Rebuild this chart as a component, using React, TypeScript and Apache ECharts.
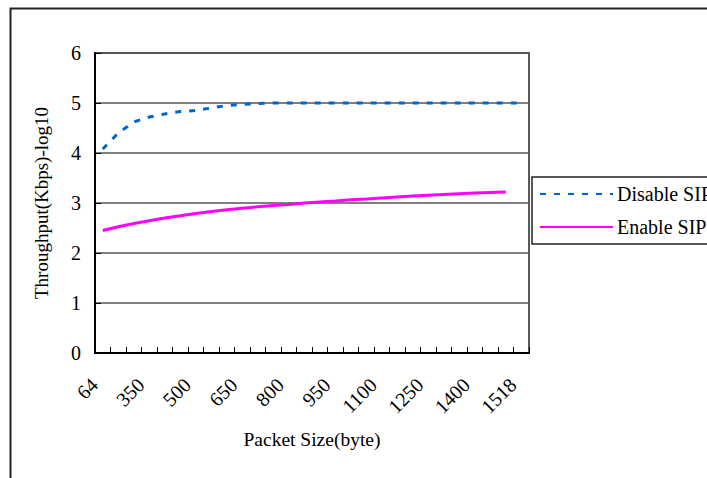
import React, { useEffect, useRef } from "react";
import * as echarts from "echarts";

const categories = [
  "64", "128", "256", "350", "400", "450", "500", "550", "600", "650",
  "700", "750", "800", "850", "900", "950", "1000", "1050", "1100", "1150",
  "1200", "1250", "1300", "1350", "1400", "1450", "1500", "1518",
];

const disableSip = [
  4.08, 4.4, 4.62, 4.72, 4.78, 4.83, 4.85, 4.9, 4.95, 4.97,
  4.99, 5.0, 5.0, 5.0, 5.0, 5.0, 5.0, 5.0, 5.0, 5.0,
  5.0, 5.0, 5.0, 5.0, 5.0, 5.0, 5.0, 5.0,
];

const enableSip = [
  2.45, 2.525, 2.59, 2.645, 2.7, 2.745, 2.79, 2.83, 2.865, 2.895,
  2.925, 2.95, 2.97, 3.0, 3.02, 3.04, 3.065, 3.08, 3.1, 3.12,
  3.14, 3.155, 3.17, 3.185, 3.2, 3.21, 3.22, null,
];

const seriesNames = ["Disable SIP", "Enable SIP"];
const xAxisTitle = "Packet Size(byte)";
const yAxisTitle = "Throughput(Kbps)-log10";

const FONT = "'Liberation Serif', 'Times New Roman', serif";

export default function App() {
  const ref = useRef<HTMLDivElement>(null);

  useEffect(() => {
    if (!ref.current) return;
    const chart = echarts.init(ref.current, undefined, { renderer: "svg" });
    chart.setOption({
      animation: false,
      backgroundColor: "#ffffff",
      textStyle: { fontFamily: FONT, color: "#000" },
      grid: {
        left: 95,
        right: 178,
        top: 53,
        bottom: 125,
        show: true,
        borderColor: "#222",
        borderWidth: 1.5,
        backgroundColor: "transparent",
      },
      graphic: [
        {
          type: "rect",
          left: 8,
          top: 6,
          shape: { x: 0, y: 0, width: 760, height: 520 },
          style: { fill: "none", stroke: "#222", lineWidth: 2 },
          silent: true,
          z: -1,
        },
      ],
      legend: {
        orient: "vertical",
        left: 532,
        top: 177,
        padding: [7, 10, 7, 7],
        itemWidth: 73,
        itemHeight: 12,
        itemGap: 13,
        borderColor: "#222",
        borderWidth: 1.5,
        itemStyle: { opacity: 0 },
        textStyle: { fontFamily: FONT, fontSize: 20, color: "#000", padding: [0, 0, 0, -1] },
        data: seriesNames,
      },
      xAxis: {
        type: "category",
        data: categories,
        boundaryGap: true,
        name: xAxisTitle,
        nameLocation: "middle",
        nameGap: 76,
        nameTextStyle: { fontFamily: FONT, fontSize: 19.5, color: "#000" },
        axisLine: { show: true, lineStyle: { color: "#000", width: 2 } },
        axisTick: { show: true, inside: true, length: 6, interval: 0, lineStyle: { color: "#000", width: 1 } },
        axisLabel: {
          interval: 2,
          rotate: 45,
          margin: 20,
          padding: [0, 12, 0, 0],
          fontFamily: FONT,
          fontSize: 20,
          color: "#000",
        },
        splitLine: { show: false },
      },
      yAxis: {
        type: "value",
        min: 0,
        max: 6,
        interval: 1,
        name: yAxisTitle,
        nameLocation: "middle",
        nameRotate: 90,
        nameGap: 44,
        nameTextStyle: { fontFamily: FONT, fontSize: 19, color: "#000" },
        axisLine: { show: true, lineStyle: { color: "#000", width: 2 } },
        axisTick: { show: true, inside: true, length: 6, lineStyle: { color: "#000", width: 1 } },
        axisLabel: { margin: 14, fontFamily: FONT, fontSize: 20, color: "#000" },
        splitLine: { show: true, lineStyle: { color: "#555", width: 1.5 } },
      },
      series: [
        {
          name: seriesNames[0],
          type: "line",
          data: disableSip,
          symbol: "none",
          smooth: false,
          itemStyle: { color: "#0066CC" },
          lineStyle: { color: "#0066CC", width: 3, type: [6, 8] },
          z: 3,
        },
        {
          name: seriesNames[1],
          type: "line",
          data: enableSip,
          symbol: "none",
          smooth: false,
          connectNulls: false,
          itemStyle: { color: "#FF00FF" },
          lineStyle: { color: "#FF00FF", width: 3 },
          z: 3,
        },
      ],
    });
    return () => chart.dispose();
  }, []);

  return (
    <div
      ref={ref}
      style={{ position: "absolute", left: 0, top: 0, width: 707, height: 478 }}
    />
  );
}
